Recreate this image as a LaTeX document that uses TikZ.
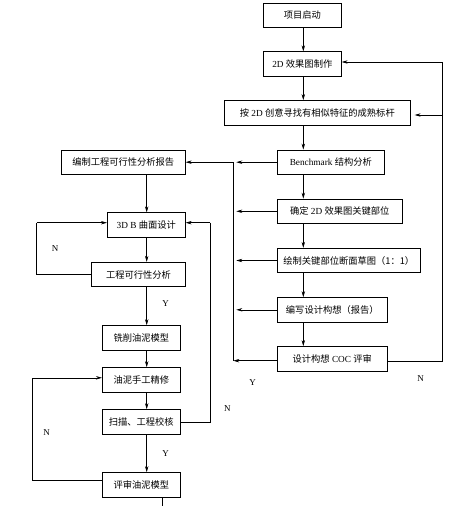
\documentclass[tikz,border=0pt]{standalone}
\usepackage{fontspec}
\setmainfont{Liberation Serif}
\newfontfamily\cjk{Noto Sans CJK SC}
\usetikzlibrary{arrows.meta}
\newcommand{\zh}[1]{{\cjk #1}}
\tikzset{
  box/.style={draw, line width=0.7pt, minimum height=24.5bp, inner sep=1pt, font=\fontsize{9.3}{11}\selectfont},
  arr/.style={-{Stealth[length=6bp,width=3.4bp]}},
  lbl/.style={font=\fontsize{9}{11}\selectfont, inner sep=0pt}
}
\begin{document}
\begin{tikzpicture}[x=1bp,y=-1bp,line width=0.6pt]
\useasboundingbox (0,0) rectangle (463,506);
% right column
\node[box, minimum width=78bp] (start) at (302.3,15.3) {\zh{项目启动}};
\node[box, minimum width=78bp] (sketch2d) at (302.3,64) {2D \zh{效果图制作}};
\node[box, minimum width=186bp] (bmark) at (317.3,112.7) {\zh{按} 2D \zh{创意寻找有相似特征的成熟标杆}};
\node[box, minimum width=107bp] (bench) at (330.8,162.2) {Benchmark \zh{结构分析}};
\node[box, minimum width=125bp] (keypos) at (339.8,211.3) {\zh{确定} 2D \zh{效果图关键部位}};
\node[box, minimum width=143bp] (section) at (348.8,260.5) {\zh{绘制关键部位断面草图（1：1）}};
\node[box, minimum width=110bp] (concept) at (332.3,309.8) {\zh{编写设计构想（报告）}};
\node[box, minimum width=110bp] (coc) at (332.3,358.7) {\zh{设计构想} COC \zh{评审}};
% left column
\node[box, minimum width=124bp] (report) at (123.3,162.2) {\zh{编制工程可行性分析报告}};
\node[box, minimum width=78bp] (surf) at (146.3,225) {3D B \zh{曲面设计}};
\node[box, minimum width=93.6bp] (feas) at (138.5,274.5) {\zh{工程可行性分析}};
\node[box, minimum width=78bp] (mill) at (141.3,337.8) {\zh{铣削油泥模型}};
\node[box, minimum width=78bp] (refine) at (141.3,379.8) {\zh{油泥手工精修}};
\node[box, minimum width=78bp] (scan) at (141.3,421.8) {\zh{扫描、工程校核}};
\node[box, minimum width=78bp] (review) at (141.3,484.8) {\zh{评审油泥模型}};

\coordinate (rc) at (303.3,0);
\coordinate (lc) at (146.7,0);
\coordinate (bus) at (233.3,0);
\coordinate (back) at (442.3,0);

% main flow
\draw[arr] (start.south -| rc) -- (sketch2d.north -| rc);
\draw[arr] (sketch2d.south -| rc) -- (bmark.north -| rc);
\draw[arr] (bmark.south -| rc) -- (bench.north -| rc);
\draw[arr] (bench.south -| rc) -- (keypos.north -| rc);
\draw[arr] (keypos.south -| rc) -- (section.north -| rc);
\draw[arr] (section.south -| rc) -- (concept.north -| rc);
\draw[arr] (concept.south -| rc) -- (coc.north -| rc);

% collecting line
\draw[arr] (bench.west) -- ([xshift=3bp]bus |- bench.west);
\draw[arr] (keypos.west) -- ([xshift=3bp]bus |- keypos.west);
\draw[arr] (section.west) -- ([xshift=3bp]bus |- section.west);
\draw[arr] (concept.west) -- ([xshift=3bp]bus |- concept.west);
\draw[arr] ([yshift=-2bp]coc.west) -- ([yshift=-2bp]bus |- coc.west);
\draw ([yshift=-2bp]bus |- coc.west) -- (bus |- bench.west);
\draw[arr] (bus |- bench.west) -- (report.east);

% back loop N
\draw ([yshift=-2.5bp]coc.east) -| ([yshift=2bp]back |- sketch2d.east);
\draw[arr] ([yshift=2bp]back |- sketch2d.east) -- ([yshift=2bp]sketch2d.east);
\draw[arr] ([yshift=-2.3bp]back |- bmark.east) -- ([xshift=4bp,yshift=-2.3bp]bmark.east);

% left flow
\draw[arr] (report.south -| lc) -- (surf.north -| lc);
\draw[arr] (surf.south -| lc) -- (feas.north -| lc);
\draw[arr] (feas.south -| lc) -- (mill.north -| lc);
\draw[arr] (mill.south -| lc) -- (refine.north -| lc);
\draw[arr] (refine.south -| lc) -- (scan.north -| lc);
\draw[arr] (scan.south -| lc) -- (review.north -| lc);
\coordinate (out) at (162.7,506);
\draw (review.south -| out) -- (out);

% loops
\coordinate (fl) at (36.7,0);
\coordinate (sl) at (210.3,0);
\coordinate (rl) at (32.3,0);
\draw ([yshift=0.5bp]feas.west) -| ([yshift=2.3bp]fl |- surf.west);
\draw[arr] ([yshift=2.3bp]fl |- surf.west) -- ([yshift=2.3bp]surf.west);
\draw ([yshift=-0.5bp]scan.east) -| ([yshift=2.3bp]sl |- surf.east);
\draw[arr] ([yshift=2.3bp]sl |- surf.east) -- ([yshift=2.3bp]surf.east);
\draw ([yshift=4.5bp]review.west) -| ([yshift=2bp]rl |- refine.west);
\draw[arr] ([yshift=2bp]rl |- refine.west) -- ([yshift=2bp]refine.west);

% labels
\node[lbl] (n1) at (55,248.3) {N};
\node[lbl] (y1) at (165.7,303.3) {Y};
\node[lbl] (y2) at (252.7,382.3) {Y};
\node[lbl] (n2) at (420.7,378.3) {N};
\node[lbl] (n3) at (227.3,408.3) {N};
\node[lbl] (n4) at (46.7,432.3) {N};
\node[lbl] (y3) at (165.7,453.3) {Y};
\end{tikzpicture}
\end{document}
